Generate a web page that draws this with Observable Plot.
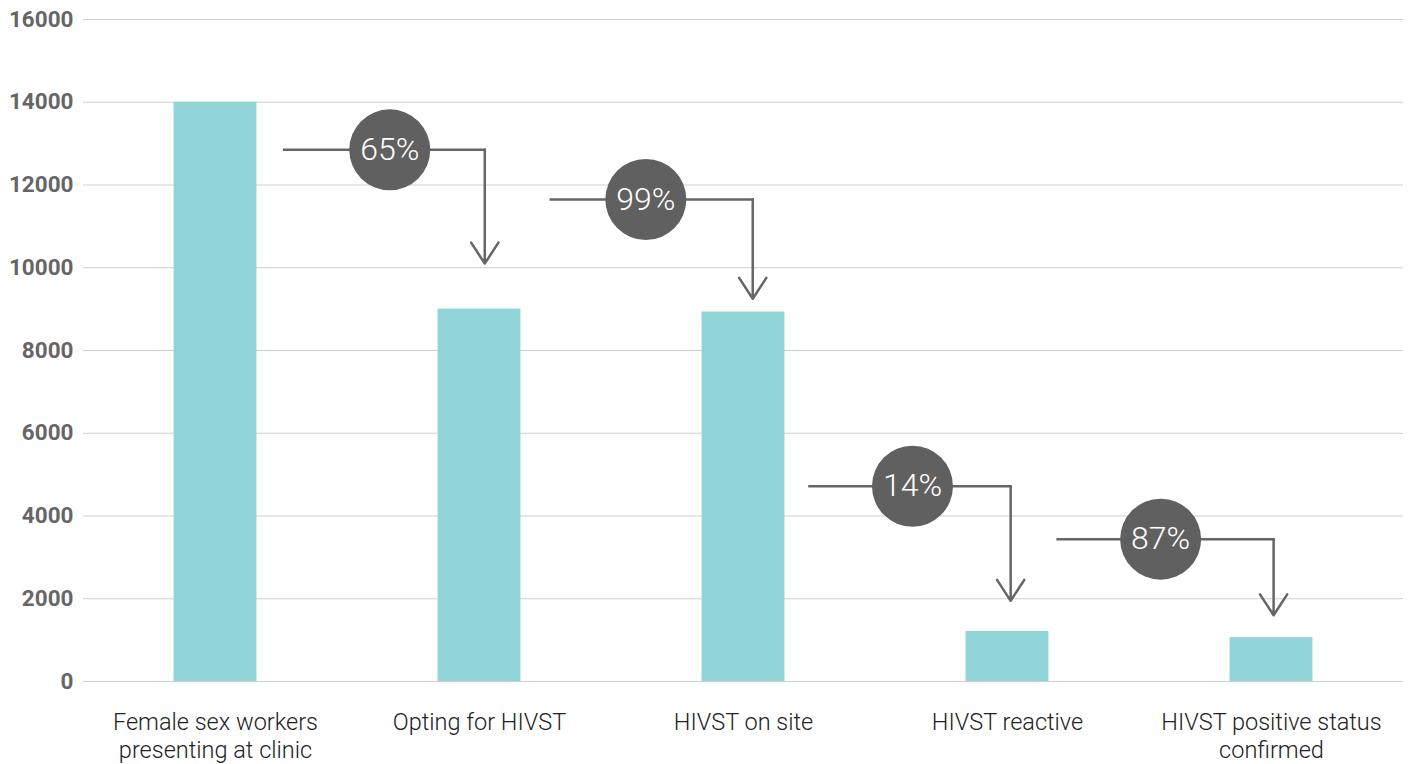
<!DOCTYPE html>
<html><head><meta charset="utf-8">
<script src="https://cdn.jsdelivr.net/npm/d3@7"></script>
<script src="https://cdn.jsdelivr.net/npm/@observablehq/plot@0.6"></script>
<style>
body{margin:0;background:#fff;}
#chart svg{display:block;font-family:Roboto,"Noto Sans",sans-serif;}
</style>
</head><body><div id="chart"></div>
<script>
const stages = ["Female sex workers\npresenting at clinic", "Opting for HIVST", "HIVST on site", "HIVST reactive", "HIVST positive status\nconfirmed"];
const counts = [14000, 9000, 8930, 1210, 1060];
const pctLabels = ["65%", "99%", "14%", "87%"];
const arrowLevel = [12850, 11650, 4720, 3440];
const arrowTip = [10100, 9250, 1950, 1600];
// annotation anchors, in stage-index units
const arrowStart = [0.26, 1.27, 2.25, 3.19];
const arrowEnd = [1.02, 2.035, 3.012, 4.008];
const badgeAt = [0.66, 1.63, 2.64, 3.58];
const yTicks = [0, 2000, 4000, 6000, 8000, 10000, 12000, 14000, 16000];

const bars = stages.map((s, i) => ({i, stage: s, count: counts[i]}));
const steps = pctLabels.map((p, i) => ({i, label: p, level: arrowLevel[i], tip: arrowTip[i],
  x0: arrowStart[i], x1: arrowEnd[i], xb: badgeAt[i]}));

const half = 0.157;
const gray = "#666";

const chart = Plot.plot({
  width: 1410,
  height: 764,
  marginLeft: 83,
  marginRight: 7,
  marginTop: 19,
  marginBottom: 83,
  style: {fontFamily: "Roboto, 'Noto Sans', sans-serif", background: "#fff"},
  x: {type: "linear", domain: [-0.5, 4.5]},
  y: {domain: [0, 16000]},
  marks: [
    Plot.gridY(yTicks, {stroke: "#cfcfcf", strokeOpacity: 1, strokeWidth: 1}),
    Plot.rectY(bars, {x1: d => d.i - half, x2: d => d.i + half, y1: 0, y2: "count", fill: "#90d4d8"}),
    Plot.axisY(yTicks, {tickSize: 0, tickPadding: 10, fontSize: 22.5, fontWeight: 700, fill: "#666", tickFormat: d => String(d), label: null}),
    Plot.axisX([0, 1, 2, 3, 4], {tickSize: 0, tickPadding: 28, fontSize: 23.5, fontWeight: 300, fill: "#222", lineHeight: 1.2, tickFormat: i => stages[i], label: null}),
    Plot.link(steps, {x1: "x0", x2: "x1", y1: "level", y2: "level", stroke: gray, strokeWidth: 2.5, strokeLinecap: "square"}),
    Plot.arrow(steps, {x1: "x1", x2: "x1", y1: "level", y2: "tip", stroke: gray, strokeWidth: 2.5, headLength: 15, headAngle: 66}),
    Plot.dot(steps, {x: "xb", y: "level", r: 40.5, fill: "#606060", stroke: null}),
    Plot.text(steps, {x: "xb", y: "level", text: "label", fill: "white", fontSize: 32, fontWeight: 300})
  ]
});
document.getElementById("chart").append(chart);
</script>
</body></html>
